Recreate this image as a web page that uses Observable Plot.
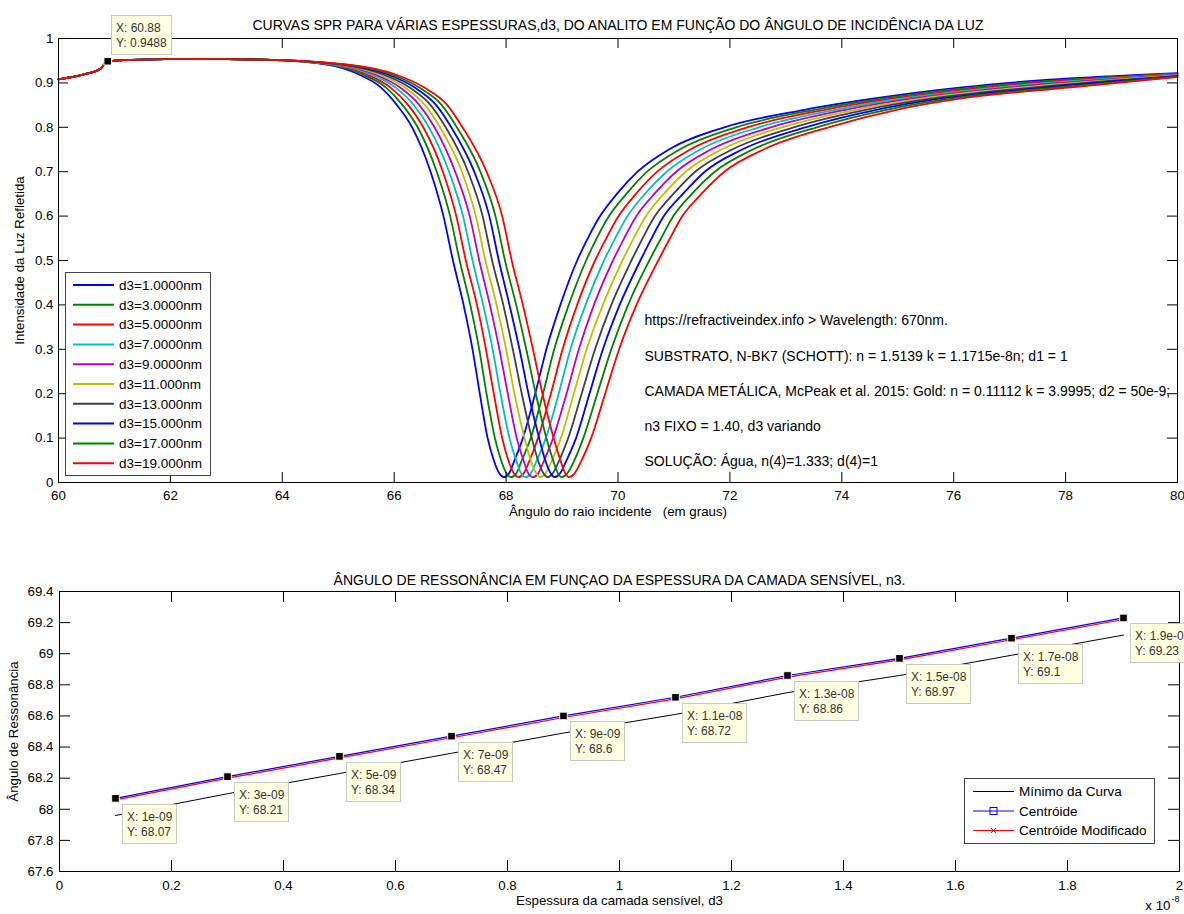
<!DOCTYPE html>
<html><head><meta charset="utf-8">
<script src="https://cdn.jsdelivr.net/npm/d3@7"></script>
<script src="https://cdn.jsdelivr.net/npm/@observablehq/plot@0.6"></script>
<style>
html,body{margin:0;padding:0;background:#fff;}
#wrap{position:relative;width:1184px;height:914px;overflow:hidden;background:#fff;}
#wrap svg{position:absolute;left:0;}
svg text{white-space:pre;}
</style></head><body><div id="wrap"></div>
<script>
const FONT = "'Liberation Sans', Arial, Helvetica, sans-serif";

// ---------- TOP PANEL DATA ----------
const titleTop = "CURVAS SPR PARA VÁRIAS ESPESSURAS,d3, DO ANALITO EM FUNÇÃO DO ÂNGULO DE INCIDÊNCIA DA LUZ";
const xLabelTop = "Ângulo do raio incidente   (em graus)";
const yLabelTop = "Intensidade da Luz Refletida";
const xTicksTop = [60, 62, 64, 66, 68, 70, 72, 74, 76, 78, 80];
const yTicksTop = [0, 0.1, 0.2, 0.3, 0.4, 0.5, 0.6, 0.7, 0.8, 0.9, 1];
const curveLabels = ["d3=1.0000nm", "d3=3.0000nm", "d3=5.0000nm", "d3=7.0000nm", "d3=9.0000nm",
  "d3=11.000nm", "d3=13.000nm", "d3=15.000nm", "d3=17.000nm", "d3=19.000nm"];
const curveColors = ["#0000ff", "#008000", "#ff0000", "#00bfbf", "#bf00bf",
  "#bfbf00", "#404040", "#0000ff", "#008000", "#ff0000"];
// common part of all curves (before the dip)
const sharedAngles = [60, 60.45, 60.75, 60.88, 61.3, 62.5, 63.8];
const sharedR = [0.908, 0.919, 0.932, 0.9488, 0.952, 0.954, 0.952];
// reflectance levels at which each curve's angle was read (left flank, minimum, right flank)
const dipLevels = [0.94, 0.92, 0.89, 0.85, 0.80, 0.70, 0.60, 0.50, 0.40, 0.30, 0.20, 0.10, 0.05, 0.02, 0.012,
  0.02, 0.05, 0.10, 0.20, 0.30, 0.40, 0.50, 0.55, 0.60, 0.65, 0.70, 0.75, 0.80, 0.84, 0.865, 0.89];
const dipAngles = [
  [64.85, 65.35, 65.76, 66.05, 66.32, 66.65, 66.88, 67.05, 67.24, 67.40, 67.53, 67.67, 67.78, 67.88, 67.96, 68.05, 68.15, 68.30, 68.52, 68.72, 68.97, 69.27, 69.46, 69.68, 69.98, 70.35, 70.91, 71.90, 73.36, 74.58, 76.14],
  [64.89, 65.42, 65.85, 66.15, 66.42, 66.76, 67.00, 67.17, 67.36, 67.52, 67.65, 67.80, 67.91, 68.01, 68.09, 68.18, 68.28, 68.44, 68.66, 68.86, 69.12, 69.43, 69.62, 69.84, 70.15, 70.52, 71.10, 72.11, 73.54, 74.75, 76.36],
  [64.94, 65.49, 65.93, 66.25, 66.52, 66.87, 67.11, 67.28, 67.48, 67.64, 67.78, 67.93, 68.04, 68.14, 68.22, 68.31, 68.42, 68.57, 68.80, 69.01, 69.27, 69.59, 69.79, 70.01, 70.32, 70.70, 71.29, 72.31, 73.72, 74.93, 76.58],
  [64.98, 65.57, 66.02, 66.35, 66.62, 66.98, 67.23, 67.40, 67.59, 67.76, 67.90, 68.06, 68.18, 68.27, 68.35, 68.44, 68.55, 68.71, 68.94, 69.15, 69.42, 69.75, 69.95, 70.17, 70.48, 70.87, 71.47, 72.52, 73.91, 75.10, 76.79],
  [65.03, 65.64, 66.10, 66.45, 66.72, 67.09, 67.35, 67.52, 67.71, 67.88, 68.03, 68.19, 68.31, 68.40, 68.48, 68.57, 68.68, 68.84, 69.08, 69.30, 69.57, 69.91, 70.11, 70.33, 70.65, 71.04, 71.66, 72.73, 74.09, 75.27, 77.01],
  [65.07, 65.71, 66.19, 66.55, 66.82, 67.21, 67.46, 67.63, 67.83, 68.00, 68.15, 68.33, 68.44, 68.54, 68.61, 68.70, 68.82, 68.98, 69.21, 69.44, 69.73, 70.08, 70.28, 70.50, 70.82, 71.21, 71.85, 72.93, 74.27, 75.45, 77.23],
  [65.12, 65.78, 66.27, 66.65, 66.92, 67.32, 67.58, 67.75, 67.95, 68.12, 68.28, 68.46, 68.57, 68.67, 68.74, 68.83, 68.95, 69.11, 69.35, 69.59, 69.88, 70.24, 70.44, 70.66, 70.99, 71.38, 72.04, 73.14, 74.45, 75.62, 77.45],
  [65.16, 65.86, 66.36, 66.75, 67.02, 67.43, 67.70, 67.87, 68.06, 68.24, 68.40, 68.59, 68.70, 68.80, 68.86, 68.96, 69.08, 69.25, 69.49, 69.73, 70.03, 70.40, 70.60, 70.82, 71.16, 71.55, 72.22, 73.35, 74.64, 75.79, 77.67],
  [65.21, 65.93, 66.44, 66.85, 67.12, 67.54, 67.81, 67.98, 68.18, 68.36, 68.53, 68.72, 68.84, 68.93, 68.99, 69.09, 69.22, 69.38, 69.63, 69.88, 70.18, 70.56, 70.77, 70.99, 71.32, 71.73, 72.41, 73.55, 74.82, 75.97, 77.88],
  [65.25, 66.00, 66.53, 66.95, 67.22, 67.65, 67.93, 68.10, 68.30, 68.48, 68.65, 68.85, 68.97, 69.06, 69.12, 69.22, 69.35, 69.52, 69.77, 70.02, 70.33, 70.72, 70.93, 71.15, 71.49, 71.90, 72.60, 73.76, 75.00, 76.14, 78.10]
];
const endAngle = 80;
const endR = [0.922, 0.921, 0.920, 0.919, 0.918, 0.917, 0.916, 0.915, 0.914, 0.913];
const tipTopX = [60.88];
const tipTopY = [0.9488];
const infoLines = [
  "https://refractiveindex.info > Wavelength: 670nm.",
  "SUBSTRATO, N-BK7 (SCHOTT): n = 1.5139 k = 1.1715e-8n; d1 = 1",
  "CAMADA METÁLICA, McPeak et al. 2015: Gold: n = 0.11112 k = 3.9995; d2 = 50e-9;",
  "n3 FIXO = 1.40, d3 variando",
  "SOLUÇÃO: Água, n(4)=1.333; d(4)=1"
];

// ---------- BOTTOM PANEL DATA ----------
const titleBottom = "ÂNGULO DE RESSONÂNCIA EM FUNÇAO DA ESPESSURA DA CAMADA SENSÍVEL, n3.";
const xLabelBottom = "Espessura da camada sensível, d3";
const yLabelBottom = "Ângulo de Ressonância";
const thickness = [1e-9, 3e-9, 5e-9, 7e-9, 9e-9, 1.1e-8, 1.3e-8, 1.5e-8, 1.7e-8, 1.9e-8];
const minimoCurva = [67.96, 68.10, 68.23, 68.36, 68.49, 68.61, 68.75, 68.86, 68.99, 69.12];
const centroide = [68.07, 68.21, 68.34, 68.47, 68.6, 68.72, 68.86, 68.97, 69.1, 69.23];
const centroideMod = [68.060, 68.200, 68.330, 68.460, 68.590, 68.710, 68.850, 68.960, 69.090, 69.220];
const xTicksBottom = [0, 2e-9, 4e-9, 6e-9, 8e-9, 1e-8, 1.2e-8, 1.4e-8, 1.6e-8, 1.8e-8, 2e-8];
const xTickLabelsBottom = ["0", "0.2", "0.4", "0.6", "0.8", "1", "1.2", "1.4", "1.6", "1.8", "2"];
const yTicksBottom = [67.6, 67.8, 68, 68.2, 68.4, 68.6, 68.8, 69, 69.2, 69.4];
const legendBottom = ["Mínimo da Curva", "Centróide", "Centróide Modificado"];
const legendBottomColors = ["#000000", "#0000ff", "#ff0000"];

// ---------- BUILD ----------
const wrap = document.getElementById("wrap");
const rows = [];
curveLabels.forEach((lab, i) => {
  sharedAngles.forEach((a, j) => rows.push({curve: lab, angle: a, r: sharedR[j]}));
  dipAngles[i].forEach((a, j) => rows.push({curve: lab, angle: a, r: dipLevels[j]}));
  rows.push({curve: lab, angle: endAngle, r: endR[i]});
});

const FS = 13.3;
const TW = 1184, TH = 530, TML = 58, TMR = 7, TMT = 38, TMB = 48;
const tIW = TW - TML - TMR, tIH = TH - TMT - TMB;
const styleObj = {fontFamily: FONT, fontSize: FS + "px", color: "#000", background: "none", overflow: "visible"};

const plotTop = Plot.plot({
  width: TW, height: TH, marginLeft: TML, marginRight: TMR, marginTop: TMT, marginBottom: TMB,
  style: styleObj,
  x: {domain: [60, 80]},
  y: {domain: [0, 1]},
  color: {domain: curveLabels, range: curveColors},
  marks: [
    Plot.line(rows, {x: "angle", y: "r", z: "curve", stroke: "curve", strokeWidth: 1.8, curve: "monotone-x"}),
    Plot.frame({stroke: "#000"}),
    Plot.ruleX(xTicksTop, {insetTop: tIH - 10, stroke: "#000"}),
    Plot.ruleX(xTicksTop, {insetBottom: tIH - 10, stroke: "#000"}),
    Plot.ruleY(yTicksTop, {insetRight: tIW - 10, stroke: "#000"}),
    Plot.ruleY(yTicksTop, {insetLeft: tIW - 10, stroke: "#000"}),
    Plot.axisX(xTicksTop, {tickSize: 0, tickPadding: 8, tickFormat: d => String(d), label: xLabelTop,
      labelAnchor: "center", labelOffset: 33, labelArrow: "none", fontSize: FS}),
    Plot.axisY(yTicksTop, {tickSize: 0, tickPadding: 5, tickFormat: d => String(d), label: yLabelTop,
      labelAnchor: "center", labelOffset: 44, labelArrow: "none", fontSize: FS}),
    Plot.text([titleTop], {frameAnchor: "top", dy: -18, fontSize: 14}),
    Plot.text([infoLines.join("\n")], {frameAnchor: "top-left", dx: 586, dy: 262, lineAnchor: "top",
      textAnchor: "start", lineHeight: 35.2 / 14, fontSize: 14}),
    Plot.dot(tipTopX, {x: d => d, y: (d, i) => tipTopY[i], symbol: "square", r: 4.3, fill: "#000", stroke: "#ffffe1", strokeWidth: 1})
  ]
});
plotTop.style.top = "0px";
wrap.appendChild(plotTop);

const BW = 1184, BH = 384, BML = 59, BMR = 5, BMT = 61, BMB = 43;
const bIW = BW - BML - BMR, bIH = BH - BMT - BMB;
const plotBottom = Plot.plot({
  width: BW, height: BH, marginLeft: BML, marginRight: BMR, marginTop: BMT, marginBottom: BMB,
  style: styleObj,
  x: {domain: [0, 2e-8]},
  y: {domain: [67.6, 69.4]},
  marks: [
    Plot.frame({stroke: "#000"}),
    Plot.ruleX(xTicksBottom, {insetTop: bIH - 11, stroke: "#000"}),
    Plot.ruleX(xTicksBottom, {insetBottom: bIH - 11, stroke: "#000"}),
    Plot.ruleY(yTicksBottom, {insetRight: bIW - 11, stroke: "#000"}),
    Plot.ruleY(yTicksBottom, {insetLeft: bIW - 11, stroke: "#000"}),
    Plot.line(thickness, {x: d => d, y: (d, i) => minimoCurva[i], stroke: "#000", strokeWidth: 1}),
    Plot.line(thickness, {x: d => d, y: (d, i) => centroide[i], stroke: "#0000ff", strokeWidth: 1.2}),
    Plot.line(thickness, {x: d => d, y: (d, i) => centroideMod[i], stroke: "#ff0000", strokeWidth: 1.2}),
    Plot.dot(thickness, {x: d => d, y: (d, i) => centroide[i], symbol: "square", r: 4.3, fill: "#000", stroke: "#ffffe1", strokeWidth: 1}),
    Plot.axisX(xTicksBottom, {tickSize: 0, tickPadding: 9, tickFormat: (d, i) => xTickLabelsBottom[i], label: xLabelBottom,
      labelAnchor: "center", labelOffset: 33, labelArrow: "none", fontSize: FS}),
    Plot.axisY(yTicksBottom, {tickSize: 0, tickPadding: 6, tickFormat: d => String(d), label: yLabelBottom,
      labelAnchor: "center", labelOffset: 51, labelArrow: "none", fontSize: FS}),
    Plot.text([titleBottom], {frameAnchor: "top", dy: -16, fontSize: 14}),
    Plot.text(["x 10"], {frameAnchor: "bottom-right", dx: -9, dy: 38, textAnchor: "end", fontSize: FS}),
    Plot.text(["-8"], {frameAnchor: "bottom-right", dx: -8, dy: 30, textAnchor: "start", fontSize: 9})
  ]
});
plotBottom.style.top = "530px";
wrap.appendChild(plotBottom);

// ---------- datatips ----------
function expLabel(v) {
  return v.toExponential().replace(/e([+-])(\d)$/, "e$10$2");
}
function datatip(svg, mx, my, lines, placeAbove) {
  const g = d3.select(svg).append("g");
  const rect = g.append("rect").attr("fill", "#ffffe1").attr("stroke", "#c8c8c8").attr("stroke-width", 1);
  const texts = lines.map((s, k) => g.append("text").attr("x", 5).attr("y", 12.5 + 15 * k).attr("dy", "0.35em")
    .attr("text-anchor", "start").attr("font-family", FONT).attr("font-size", 12).attr("fill", "#333").text(s));
  let w = 0;
  texts.forEach(t => { w = Math.max(w, t.node().getComputedTextLength()); });
  rect.attr("x", 0.5).attr("y", 0.5).attr("width", Math.round(w + 9)).attr("height", 39);
  const bx = placeAbove ? mx + 4 : mx + 7;
  const by = placeAbove ? my - 46 : my + 6;
  g.attr("transform", `translate(${Math.round(bx)},${Math.round(by)})`);
}
{
  const sx = plotTop.scale("x"), sy = plotTop.scale("y");
  tipTopX.forEach((v, i) => datatip(plotTop, sx.apply(v), sy.apply(tipTopY[i]),
    ["X: " + v, "Y: " + tipTopY[i]], true));
}
{
  const sx = plotBottom.scale("x"), sy = plotBottom.scale("y");
  thickness.forEach((v, i) => datatip(plotBottom, sx.apply(v), sy.apply(centroide[i]),
    ["X: " + expLabel(v), "Y: " + String(centroide[i])], false));
}

// ---------- legends ----------
{
  const g = d3.select(plotTop).append("g");
  const bx = 65, by = 272, bw = 145, bh = 203;
  g.append("rect").attr("x", bx + 0.5).attr("y", by + 0.5).attr("width", bw).attr("height", bh)
    .attr("fill", "#fff").attr("stroke", "#444");
  curveLabels.forEach((lab, i) => {
    const y = by + 13 + i * 19.8;
    g.append("line").attr("x1", bx + 8).attr("x2", bx + 49).attr("y1", y).attr("y2", y)
      .attr("stroke", curveColors[i]).attr("stroke-width", 2);
    g.append("text").attr("x", bx + 54).attr("y", y).attr("dy", "0.35em").attr("text-anchor", "start")
      .attr("font-family", FONT).attr("font-size", 13.5).attr("fill", "#000").text(lab);
  });
}
{
  const g = d3.select(plotBottom).append("g");
  const bx = 964, by = 248, bw = 190, bh = 65;
  g.append("rect").attr("x", bx + 0.5).attr("y", by + 0.5).attr("width", bw).attr("height", bh)
    .attr("fill", "#fff").attr("stroke", "#444");
  legendBottom.forEach((lab, i) => {
    const y = by + 13.5 + i * 19.5;
    g.append("line").attr("x1", bx + 9).attr("x2", bx + 50).attr("y1", y).attr("y2", y)
      .attr("stroke", legendBottomColors[i]).attr("stroke-width", 1);
    const cx = bx + 29.5;
    if (i === 1) g.append("rect").attr("x", cx - 3.5).attr("y", y - 3.5).attr("width", 7).attr("height", 7)
      .attr("fill", "none").attr("stroke", legendBottomColors[i]);
    if (i === 2) g.append("path").attr("d", `M${cx - 2.5},${y - 2.5}L${cx + 2.5},${y + 2.5}M${cx - 2.5},${y + 2.5}L${cx + 2.5},${y - 2.5}`)
      .attr("stroke", legendBottomColors[i]).attr("fill", "none");
    g.append("text").attr("x", bx + 55).attr("y", y).attr("dy", "0.35em").attr("text-anchor", "start")
      .attr("font-family", FONT).attr("font-size", 13.5).attr("fill", "#000").text(lab);
  });
}
</script></body></html>
